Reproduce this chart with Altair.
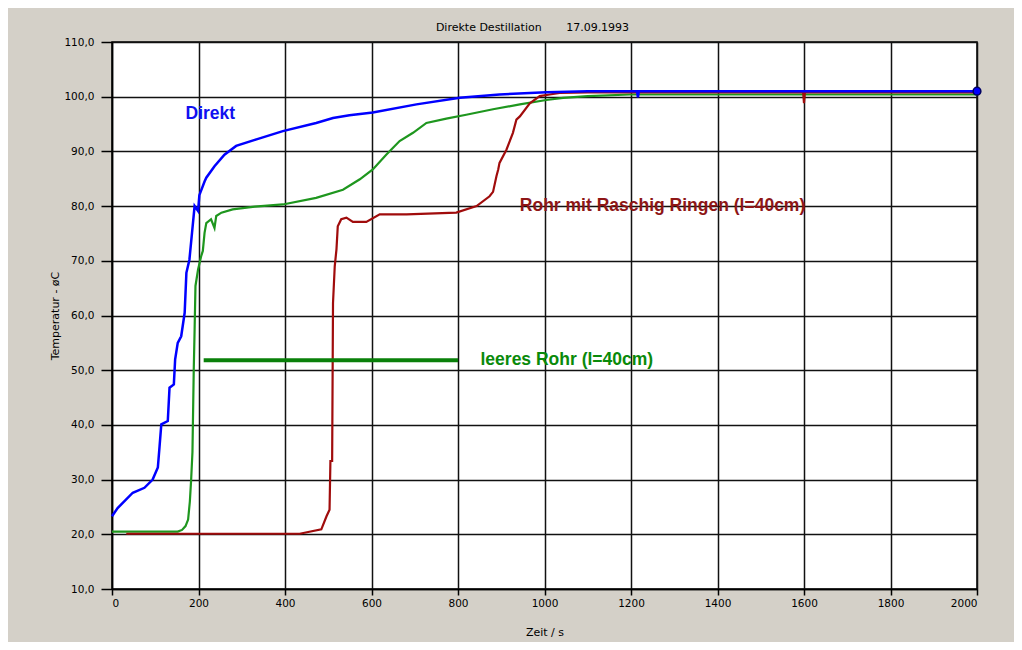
import altair as alt
import pandas as pd

# ---- data ----
blue_t = [0, 13, 48, 75, 94, 106, 110, 114, 129, 133, 143, 146, 152, 160, 168, 172, 179, 185, 191, 199,
          202, 214, 218, 237, 260, 287, 334, 395, 472, 511, 549, 603, 704, 804, 896, 1004, 1100,
          1214, 1216, 1218, 1300, 1400, 1500, 1600, 1700, 1800, 1900, 2000]
blue_T = [23.3, 24.8, 27.6, 28.5, 30.0, 32.2, 36.1, 40.1, 40.7, 46.8, 47.4, 52.0, 55.0, 56.2, 60.5, 67.8, 70.2,
          75.1, 80.0, 79.1, 82.0, 84.5, 85.2, 87.3, 89.4, 91.0, 92.2, 93.7, 95.2, 96.1, 96.6, 97.1, 98.6,
          99.8, 100.4, 100.8, 101.0, 101.0, 99.9, 101.0, 101.0, 101.0, 101.0, 101.0, 101.0, 101.0, 101.0, 101.0]

green_t = [0, 152, 162, 170, 176, 180, 183, 186, 189, 191, 193, 199, 206, 210, 214, 218, 229, 237, 241, 253,
           279, 330, 395, 472, 534, 573, 603, 634, 665, 696, 727, 773, 819, 881, 943, 1004, 1043, 1100, 1197,
           1300, 1400, 1500, 1600, 1700, 1800, 1900, 2000]
green_T = [20.5, 20.5, 20.8, 21.5, 22.7, 26.0, 30.0, 35.0, 50.0, 57.4, 65.4, 68.4, 70.8, 71.8, 75.1, 76.9, 77.6,
           76.0, 78.2, 78.8, 79.4, 79.9, 80.3, 81.5, 83.0, 84.9, 86.7, 89.4, 91.9, 93.4, 95.2, 96.0, 96.7, 97.7,
           98.6, 99.4, 99.8, 100.1, 100.4, 100.4, 100.4, 100.4, 100.4, 100.4, 100.4, 100.4, 100.4]

red_t = [33, 434, 484, 496, 503, 505, 509, 511, 515, 519, 522, 530, 542, 557, 588, 619, 681, 796, 843, 873,
         881, 889, 893, 896, 912, 927, 935, 943, 966, 989, 1012, 1035, 1100, 1200, 1400, 1598, 1600, 1602,
         1800, 2000]
red_T = [20.1, 20.1, 20.9, 23.3, 24.5, 33.4, 33.4, 62.3, 69.0, 72.1, 76.3, 77.6, 77.9, 77.1, 77.1, 78.5, 78.5,
         78.8, 80.0, 81.8, 82.6, 85.5, 86.7, 87.9, 90.3, 93.4, 95.8, 96.4, 98.8, 100.1, 100.4, 100.7, 100.8,
         100.8, 100.8, 100.8, 98.8, 100.8, 100.8, 100.8]

end_t = [2000]
end_T = [101.0]

bar_t = [212]
bar_t2 = [800]
bar_T = [51.8]

label_text = ["Direkt", "Rohr mit Raschig Ringen (l=40cm)", "leeres Rohr (l=40cm)"]
label_t = [170, 943, 852]
label_T = [96.9, 80.1, 51.8]
label_col = ["#1010F0", "#8E1616", "#0A8A0A"]

x_ticks = list(range(0, 2001, 200))
y_ticks = list(range(10, 111, 10))

# ---- chart ----
xs = alt.Scale(domain=[0, 2000], nice=False, zero=False)
ys = alt.Scale(domain=[10, 110], nice=False, zero=False)

xax = alt.Axis(values=x_ticks, format="d", title="Zeit / s", grid=True, gridColor="#111111", gridWidth=1.5,
               gridOpacity=1, tickSize=6, tickColor="black", tickWidth=1.5, domainColor="black",
               domainWidth=1.5, labelFont="DejaVu Sans", labelFontSize=10.5, labelColor="black",
               labelPadding=3, titleFont="DejaVu Sans", titleFontSize=11, titleFontWeight="normal",
               titleColor="black", titleX=432.5, titleY=43, titleBaseline="middle", titleAlign="center")
yax = alt.Axis(values=y_ticks, labelExpr="replace(format(datum.value, '.1f'), '.', ',')",
               title="Temperatur - øC", grid=True, gridColor="#111111", gridWidth=1.5, gridOpacity=1,
               tickSize=11, tickColor="black", tickWidth=1.5, domainColor="black", domainWidth=1.5,
               labelFont="DejaVu Sans", labelFontSize=10.5, labelColor="black", labelPadding=7,
               titleFont="DejaVu Sans", titleFontSize=11, titleFontWeight="normal", titleColor="black",
               titleAngle=270, titleX=-57, titleY=273.5, titleBaseline="middle", titleAlign="center")


def series(t, T, color, width):
    df = pd.DataFrame({"t": t, "T": T})
    return alt.Chart(df).mark_line(color=color, strokeWidth=width, interpolate="linear").encode(
        x=alt.X("t:Q", scale=xs, axis=xax),
        y=alt.Y("T:Q", scale=ys, axis=yax),
    )


green = series(green_t, green_T, "#1E961E", 2.2)
red = series(red_t, red_T, "#A00C0C", 2.2)
blue = series(blue_t, blue_T, "#0000FF", 2.5)

end_pt = alt.Chart(pd.DataFrame({"t": end_t, "T": end_T})).mark_point(
    filled=True, color="#0000FF", stroke="#000060", strokeWidth=1.5, size=60, opacity=1, shape="circle"
).encode(x=alt.X("t:Q", scale=xs), y=alt.Y("T:Q", scale=ys))

bar = alt.Chart(pd.DataFrame({"t": bar_t, "t2": bar_t2, "T": bar_T})).mark_rule(
    color="#0A800A", strokeWidth=4
).encode(x=alt.X("t:Q", scale=xs), x2="t2:Q", y=alt.Y("T:Q", scale=ys))

labels = alt.Chart(pd.DataFrame({"t": label_t, "T": label_T, "txt": label_text, "c": label_col})).mark_text(
    align="left", baseline="middle", font="Liberation Sans", fontSize=17.5, fontWeight="bold"
).encode(
    x=alt.X("t:Q", scale=xs), y=alt.Y("T:Q", scale=ys), text="txt:N",
    color=alt.Color("c:N", scale=None, legend=None),
)

chart = alt.layer(green, red, blue, end_pt, bar, labels).properties(
    width=865,
    height=547,
    autosize="none",
    padding={"left": 104, "top": 34, "right": 37, "bottom": 53},
    background="#D4D0C8",
    title=alt.TitleParams(
        text="Direkte Destillation\u00a0\u00a0\u00a0\u00a0\u00a0\u00a0\u00a017.09.1993",
        font="DejaVu Sans", fontSize=11, fontWeight="normal", color="black",
        anchor="middle", dx=-12, offset=4,
    ),
).configure_view(fill="white", stroke="black", strokeWidth=1.5)

chart.save("out.html", embed_options={"renderer": "svg", "actions": False})
